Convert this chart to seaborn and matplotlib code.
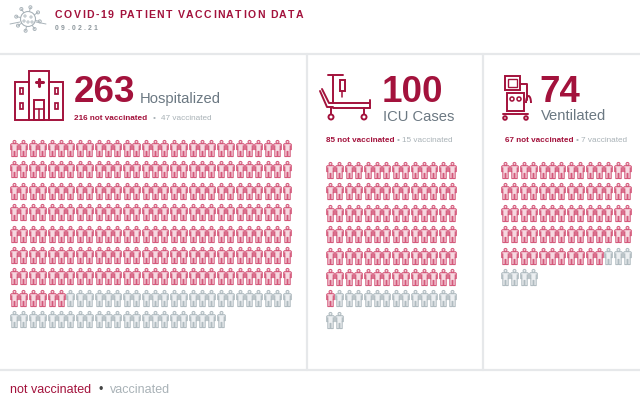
import numpy as np
import pandas as pd
import seaborn as sns
import matplotlib
matplotlib.use("Agg")
import matplotlib.pyplot as plt
from matplotlib.path import Path
from matplotlib.patches import Rectangle, Circle, Arc
from matplotlib.textpath import TextToPath
from matplotlib.font_manager import FontProperties

# data
categories = ["Hospitalized", "ICU Cases", "Ventilated"]
totals = [263, 100, 74]
not_vaccinated = [216, 85, 67]
vaccinated = [47, 15, 7]
columns = [30, 14, 14]
title = "COVID-19 PATIENT VACCINATION DATA"
date_label = "09.02.21"
legend_labels = ["not vaccinated", "vaccinated"]

RED = "#a3123c"
ICON_RED = ("#f6d8e0", "#d4587a")
ICON_GRAY = ("#eceff1", "#b0bbc0")
LABEL_GRAY = "#6b7882"
SUB_GRAY = "#a9b2b7"
LINE = "#e6e8ea"
FONT = "Liberation Sans"

sns.set_theme(style="white")
plt.rcParams["font.family"] = [FONT, "DejaVu Sans"]

W, H = 640, 401
fig = plt.figure(figsize=(6.4, 4.01), dpi=100)
bg = fig.add_axes([0, 0, 1, 1])
bg.set_xlim(0, W)
bg.set_ylim(H, 0)
bg.axis("off")

ttp = TextToPath()


def text_width(s, prop):
    """Width of a string in pixels."""
    if s == " ":
        return 0.278 * prop.get_size_in_points() * 100 / 72
    w, _, _ = ttp.get_text_width_height_descent(s, prop, ismath=False)
    return w * 100 / 72


def spaced_text(x, y, s, size, color, weight="normal", spacing=0.0):
    prop = FontProperties(family=FONT, weight=weight, size=size)
    for ch in s:
        bg.text(x, y, ch, fontproperties=prop, color=color, va="baseline", ha="left")
        x += text_width(ch, prop) + spacing
    return x


def text_run(x, y, parts, size):
    for s, color, weight, gap in parts:
        prop = FontProperties(family=FONT, weight=weight, size=size)
        bg.text(x, y, s, fontproperties=prop, color=color, va="baseline", ha="left")
        x += text_width(s, prop) + gap
    return x


# person marker: outline, head, and the lines that split arms from the body
body = [(-0.34, 0.36), (-0.27, 0.43), (0.27, 0.43), (0.34, 0.36), (0.34, -0.10),
        (0.24, -0.10), (0.24, -0.72), (0.04, -0.72), (0.04, -0.26), (-0.04, -0.26),
        (-0.04, -0.72), (-0.24, -0.72), (-0.24, -0.10), (-0.34, -0.10), (-0.34, 0.36)]
arms = Path([(-0.24, 0.28), (-0.24, -0.10), (0.24, 0.28), (0.24, -0.10)],
            [Path.MOVETO, Path.LINETO, Path.MOVETO, Path.LINETO])
person = Path.make_compound_path(Path.circle((0, 0.59), 0.13), Path(body, closed=True), arms)


def grid_axes(x0, y0, ncols, nrows, dx=9.4, dy=21.4):
    left = (x0 - dx / 2) / W
    top = (y0 - dy / 2) / H
    w = ncols * dx / W
    h = nrows * dy / H
    ax = fig.add_axes([left, 1 - top - h, w, h])
    ax.set_xlim(-0.5, ncols - 0.5)
    ax.set_ylim(nrows - 0.5, -0.5)
    ax.axis("off")
    return ax


grid_origin = [(14, 148), (330, 170), (505, 170)]
for i, cat in enumerate(categories):
    n_total = not_vaccinated[i] + vaccinated[i]
    ncols = columns[i]
    idx = np.arange(n_total)
    df = pd.DataFrame({
        "col": idx % ncols,
        "row": idx // ncols,
        "status": np.where(idx < not_vaccinated[i], "not vaccinated", "vaccinated"),
    })
    nrows = int(df["row"].max()) + 1
    ax = grid_axes(*grid_origin[i], ncols, nrows)
    for status, (face, edge) in zip(legend_labels, [ICON_RED, ICON_GRAY]):
        sns.scatterplot(data=df[df["status"] == status], x="col", y="row", marker=person,
                        s=135, color=face, edgecolor=edge, linewidth=0.75, ax=ax, legend=False)
    ax.set_xlim(-0.5, ncols - 0.5)
    ax.set_ylim(nrows - 0.5, -0.5)

# divider lines
bg.plot([0, W], [54, 54], color=LINE, lw=1.6)
bg.plot([0, W], [370, 370], color=LINE, lw=1.6)
for xv in [307, 483]:
    bg.plot([xv, xv], [54, 370], color=LINE, lw=1.6)

# header
spaced_text(55, 18, title, 7.6, RED, weight="bold", spacing=1.35)
spaced_text(55, 29.5, date_label, 4.9, "#8c969c", weight="bold", spacing=2.3)

# virus icon
vg = "#a9b3b9"
bg.add_patch(Circle((28, 19), 7.5, fill=False, ec=vg, lw=0.8))
for a in np.linspace(0, 2 * np.pi, 9)[:-1] + 0.2:
    x1, y1 = 28 + 7.5 * np.cos(a), 19 + 7.5 * np.sin(a)
    x2, y2 = 28 + 12 * np.cos(a), 19 + 12 * np.sin(a)
    bg.plot([x1, x2], [y1, y2], color=vg, lw=0.7)
    bg.add_patch(Circle((x2, y2), 1.5, fill=False, ec=vg, lw=0.7))
for cx, cy in [(25, 16), (31, 17), (28, 22), (24, 21), (32, 22)]:
    bg.add_patch(Circle((cx, cy), 1.1, fill=False, ec=vg, lw=0.6))
bg.plot([10, 20], [24, 22], color=vg, lw=0.7)
bg.plot([36, 46], [22, 24], color=vg, lw=0.7)

# hospital icon
ilw = 1.4
bg.add_patch(Rectangle((29, 71), 20, 49, fill=False, ec=RED, lw=ilw))
bg.add_patch(Rectangle((15, 82), 14, 38, fill=False, ec=RED, lw=ilw))
bg.add_patch(Rectangle((49, 82), 14, 38, fill=False, ec=RED, lw=ilw))
bg.plot([35.5, 42.5], [82, 82], color=RED, lw=ilw + 0.8)
bg.plot([39, 39], [78.5, 85.5], color=RED, lw=ilw + 0.8)
bg.add_patch(Rectangle((34, 100), 10, 20, fill=False, ec=RED, lw=ilw))
bg.plot([34, 44], [109, 109], color=RED, lw=ilw * 0.8)
bg.plot([39, 39], [109, 120], color=RED, lw=ilw * 0.8)
for wx in [19.5, 54.5]:
    for wy in [88, 103]:
        bg.add_patch(Rectangle((wx, wy), 3.5, 6, fill=False, ec=RED, lw=ilw * 0.9))

# ICU bed icon
bg.plot([333, 333], [75, 103], color=RED, lw=ilw)
bg.plot([328, 343], [75, 75], color=RED, lw=ilw)
bg.add_patch(Rectangle((340, 80), 4.5, 11, fill=False, ec=RED, lw=ilw))
bg.plot([342.2, 342.2], [91, 97], color=RED, lw=ilw * 0.8)
bg.plot([322, 329, 370], [89, 103, 103], color=RED, lw=ilw)
bg.plot([320, 327, 333], [91, 107, 107], color=RED, lw=ilw)
bg.plot([333, 370], [108, 108], color=RED, lw=ilw)
bg.plot([370, 370], [100, 108], color=RED, lw=ilw)
for wx in [331, 364]:
    bg.plot([wx, wx], [108, 114], color=RED, lw=ilw)
    bg.add_patch(Circle((wx, 117), 2.5, fill=False, ec=RED, lw=ilw))

# ventilator icon
bg.add_patch(Rectangle((505, 76), 15, 14, fill=False, ec=RED, lw=ilw))
bg.add_patch(Rectangle((508, 79), 9, 8, fill=False, ec=RED, lw=ilw * 0.7))
bg.add_patch(Rectangle((507, 93), 17, 18, fill=False, ec=RED, lw=ilw))
bg.add_patch(Circle((512, 99), 2, fill=False, ec=RED, lw=ilw * 0.8))
bg.add_patch(Circle((519, 99), 2, fill=False, ec=RED, lw=ilw * 0.8))
bg.plot([520, 527, 527], [84, 84, 100], color=RED, lw=ilw)
bg.add_patch(Arc((528.5, 103), 5, 14, theta1=180, theta2=360, ec=RED, lw=ilw))
bg.plot([503, 528], [114, 114], color=RED, lw=ilw)
for wx in [505, 526]:
    bg.add_patch(Circle((wx, 118), 1.8, fill=False, ec=RED, lw=ilw))

# big numbers and labels
big_pos = [(74, 102), (382, 102), (539, 102)]
label_pos = [(140, 103), (383, 121), (541, 120)]
sub_pos = [(74, 120), (326, 142), (505, 142)]
sub_gap = [5.5, 2.0, 2.0]
for i, cat in enumerate(categories):
    bg.text(*big_pos[i], str(totals[i]), fontsize=26.5, fontweight="bold", color=RED,
            va="baseline", ha="left", family=FONT)
    bg.text(*label_pos[i], cat, fontsize=10.6, color=LABEL_GRAY, va="baseline", ha="left",
            family=FONT)
    g = sub_gap[i]
    text_run(sub_pos[i][0], sub_pos[i][1], [
        (f"{not_vaccinated[i]} not vaccinated", RED, "bold", g),
        ("•", SUB_GRAY, "normal", g),
        (f"{vaccinated[i]} vaccinated", SUB_GRAY, "normal", 0),
    ], 5.9)

# footer legend
text_run(10, 393, [
    (legend_labels[0], RED, "normal", 7.5),
    ("•", "#444444", "normal", 7.5),
    (legend_labels[1], SUB_GRAY, "normal", 0),
], 9.0)

fig.savefig("out.png", dpi=100, facecolor="white")
